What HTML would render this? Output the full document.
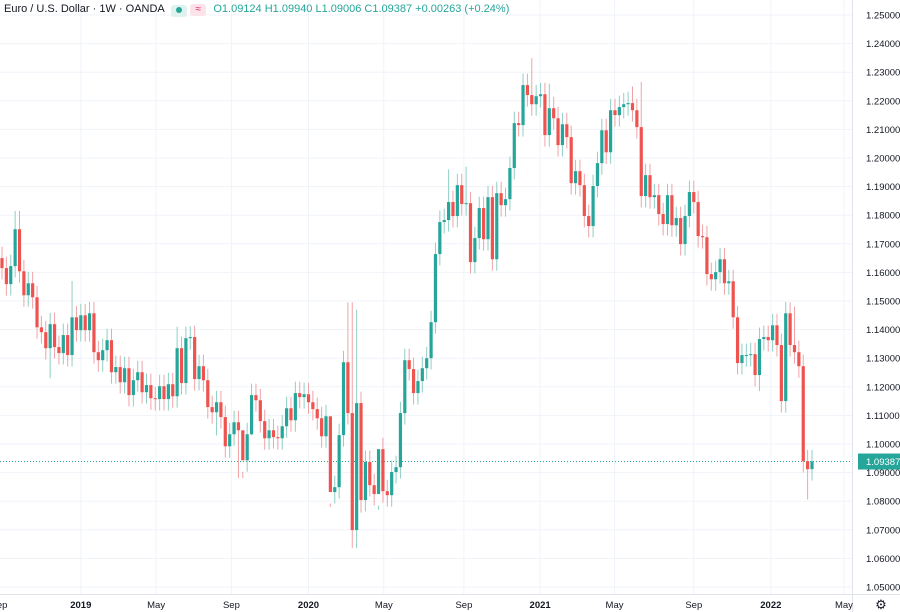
<!DOCTYPE html>
<html><head><meta charset="utf-8"><style>
body{margin:0;background:#fff;font-family:"Liberation Sans",sans-serif;}
#wrap{position:relative;width:900px;height:612px;overflow:hidden;}
svg{position:absolute;left:0;top:0;}
#hdr{position:absolute;left:4px;top:3px;font-size:11px;color:#131722;white-space:nowrap;}
</style></head><body>
<div id="wrap">
<svg id="chart" width="900" height="612"></svg>
<div id="hdr">
<span>Euro / U.S. Dollar · 1W · OANDA</span>
<span style="display:inline-block;width:16px;height:12px;background:#e0f2ee;border-radius:3px;vertical-align:-2px;margin-left:4px;text-align:center"><span style="display:inline-block;width:6px;height:6px;border-radius:3px;background:#26a69a;vertical-align:1px"></span></span>
<span style="display:inline-block;width:16px;height:12px;background:#fbe3e9;border-radius:3px;color:#e91e63;font-size:10px;text-align:center;line-height:12px">≈</span>
<span style="color:#26a69a;margin-left:4px">O1.09124 H1.09940 L1.09006 C1.09387 +0.00263 (+0.24%)</span>
</div>
</div>
<script>
const closes=[1.1615,1.1559,1.1622,1.1751,1.1604,1.1520,1.1562,1.1513,1.1408,1.1391,1.1335,1.1419,1.1339,1.1318,1.1381,1.1311,1.1443,1.1398,1.1450,1.1398,1.1457,1.1321,1.1293,1.1328,1.1363,1.1251,1.1269,1.1216,1.1265,1.1171,1.1223,1.1251,1.1181,1.1206,1.1160,
1.1157,1.1202,1.1157,1.1209,1.1167,1.1335,1.1213,1.1370,1.1374,1.1227,1.1272,1.1223,1.1129,1.1111,1.1146,1.1094,1.0992,1.1034,1.1076,1.1048,1.0943,1.1034,1.1171,1.1153,1.1080,1.1020,1.1048,1.1024,1.1020,1.1062,1.1125,1.1083,1.1178,1.1164,1.1174,
1.1146,1.1122,1.1090,1.1027,1.1097,1.0832,1.0849,1.1031,1.1286,1.1108,1.0699,1.1143,1.0804,1.0937,1.0856,1.0825,1.0982,1.0835,1.0821,1.0902,1.0919,1.1108,1.1293,1.1262,1.1178,1.1220,1.1265,1.1300,1.1426,
1.1664,1.1776,1.1783,1.1846,1.1797,1.1905,1.1839,1.1842,1.1636,1.1720,1.1825,1.1716,1.1863,1.1646,1.1877,1.1835,1.1856,1.1965,1.2122,1.2115,1.2255,1.2220,1.2188,1.2216,1.2223,1.2080,1.2174,1.2139,1.2045,1.2118,1.2073,
1.1912,1.1954,1.1905,1.1797,1.1762,1.1902,1.1982,1.2097,1.2020,1.2167,1.2150,1.2178,1.2188,1.2192,1.2167,1.2108,1.1867,1.1940,1.1863,1.1870,1.1804,1.1769,1.1870,1.1765,1.1790,1.1699,1.1797,1.1881,1.1846,1.1727,1.1723,
1.1594,1.1576,1.1601,1.1646,1.1562,1.1569,1.1443,1.1283,1.1311,1.1311,1.1314,1.1241,1.1367,1.1374,1.1363,1.1415,1.1346,1.1150,1.1457,1.1346,1.1321,1.1272,1.0940,1.0912,1.0939];
const firstOpen=1.1650;
const wickUp=[0.0040];
const wickDown=[0.0040];
const highOverrides={3:1.1815,4:1.1815,16:1.1570,40:1.1410,43:1.1412,55:1.0880,75:1.0780,79:1.1495,80:1.1495,81:1.1470,86:1.0770,102:1.1960,106:1.1970,121:1.2349,125:1.2260,146:1.2266,144:1.2250,180:1.1495,181:1.1480};
const lowOverrides={80:1.0636,81:1.0636,82:1.0760,184:1.0806,183:1.0900,57:1.1030,49:1.1030,11:1.1230,54:1.0880,173:1.1185};
const yTicks=[1.05,1.06,1.07,1.08,1.09,1.10,1.11,1.12,1.13,1.14,1.15,1.16,1.17,1.18,1.19,1.20,1.21,1.22,1.23,1.24,1.25];
const xLabels=["Sep","2019","May","Sep","2020","May","Sep","2021","May","Sep","2022","May"];
const xLabelPos=[-0.7,18,35.2,52.4,70,87.2,105.5,122.9,139.9,158,175.6,192.3]; // in week index units
const lastPrice=1.09387;

const svg=document.getElementById('chart');
const NS='http://www.w3.org/2000/svg';
const Y=v=>15+(1.25-v)*2860;
const X=i=>2+i*(810/(closes.length-1));
function mk(t,a){const e=document.createElementNS(NS,t);for(const k in a)e.setAttribute(k,a[k]);svg.appendChild(e);return e;}
// grid
yTicks.forEach(v=>{const l=mk('line',{x1:0,x2:852,y1:Y(v),y2:Y(v),stroke:'#f0f3fa','stroke-width':1});

});
xLabelPos.forEach((p,i)=>{const l=mk('line',{x1:X(p),x2:X(p),y1:0,y2:594,stroke:'#f0f3fa','stroke-width':1});

});
// right axis separator
const ax=mk('line',{x1:852.5,x2:852.5,y1:0,y2:612,stroke:'#e0e3eb'});


const bx=mk('line',{x1:0,x2:900,y1:594.5,y2:594.5,stroke:'#e0e3eb'});


// last price line
const lp=mk('line',{x1:0,x2:852,y1:Y(lastPrice),y2:Y(lastPrice),stroke:'#26a69a','stroke-width':1,'stroke-dasharray':'1,2'});


// candles
let prev=firstOpen;
closes.forEach((c,i)=>{
 const o=prev;prev=c;
 const up=c>=o;
 const col=up?'#26a69a':'#ef5350';
 const wcol=up?'#8fcfc5':'#f0a3a6';
 const hi=highOverrides[i]!==undefined?highOverrides[i]:Math.max(o,c)+wickUp[0];
 const lo=lowOverrides[i]!==undefined?lowOverrides[i]:Math.min(o,c)-wickDown[0];
 const x=X(i);
 const w=mk('line',{x1:x,x2:x,y1:Y(hi),y2:Y(lo),stroke:wcol,'stroke-width':1});
 
 
 const top=Y(Math.max(o,c)),bot=Y(Math.min(o,c));
 const b=mk('rect',{x:x-1.6,y:top,width:3.2,height:Math.max(1,bot-top),fill:col});
 
 
});
// y labels
yTicks.forEach(v=>{const t=mk('text',{x:866,y:Y(v)+3.5,'font-size':'9.5','fill':'#131722','font-family':'Liberation Sans, sans-serif'});
t.textContent=v.toFixed(5);

});
// price tag
const pr=mk('rect',{x:858,y:Y(lastPrice)-8,width:42,height:16,fill:'#26a69a'});


const pt=mk('text',{x:866,y:Y(lastPrice)+3.5,'font-size':'9.5',fill:'#fff','font-family':'Liberation Sans, sans-serif'});
pt.textContent=lastPrice.toFixed(5);


// x labels
xLabels.forEach((s,i)=>{const t=mk('text',{x:X(xLabelPos[i]),y:608,'font-size':'9.5','text-anchor':'middle',fill:'#131722','font-weight':(/^\d/.test(s)?'bold':'normal'),'font-family':'Liberation Sans, sans-serif'});
t.textContent=s;

});
// settings gear
const g=mk('text',{x:881,y:609,'font-size':'13','text-anchor':'middle',fill:'#131722'});
g.textContent='⚙';


</script>
</body></html>
